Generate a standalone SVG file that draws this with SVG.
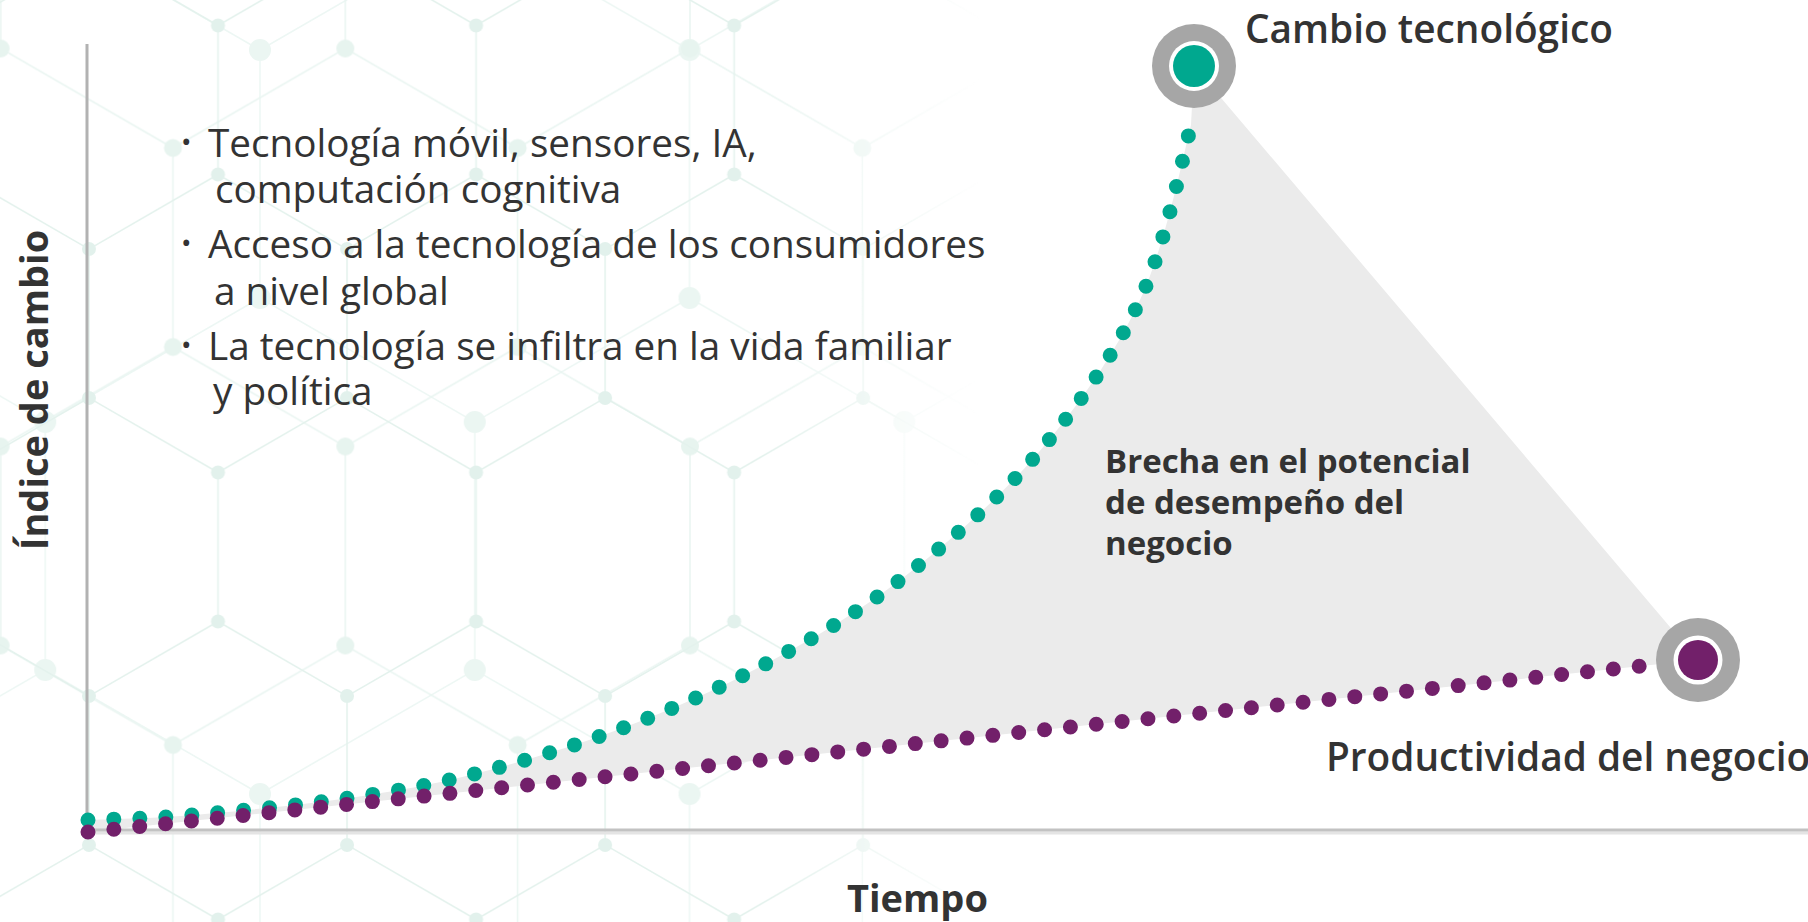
<svg xmlns="http://www.w3.org/2000/svg" width="1808" height="922" viewBox="0 0 1808 922">
  <style>
    .txt { font-family: "Open Sans", "Liberation Sans", sans-serif; fill: #333; }
    .bul { font-size: 38.7px; font-weight: 400; }
    .dot { font-size: 28px; }
    .lbl { font-size: 38.8px; font-weight: 600; }
    .gap { font-size: 33px; font-weight: 700; }
    .axis { font-size: 38px; font-weight: 700; }
    .ring { fill: #a6a6a6; }
    .halo { fill: #ffffff; }
    .curve { fill: none; stroke-width: 15; stroke-linecap: round; stroke-dasharray: 0 26; }
  </style>
  <defs>
    <pattern id="hexA" patternUnits="userSpaceOnUse" x="88.96" y="547" width="258.08" height="447">
      <path d="M129.04,0 V74.5 L258.08,149 V298 L129.04,372.5 V447 M129.04,74.5 L0,149 V298 L129.04,372.5" fill="none" stroke="#e4f2ed" stroke-width="1.5"/>
      <g fill="#e2f1ec">
        <circle cx="129.04" cy="74.5" r="7"/><circle cx="258.08" cy="149" r="7"/><circle cx="258.08" cy="298" r="7"/>
        <circle cx="129.04" cy="372.5" r="7"/><circle cx="0" cy="149" r="7"/><circle cx="0" cy="298" r="7"/>
      </g>
    </pattern>
    <pattern id="hexB" patternUnits="userSpaceOnUse" x="45.23" y="174" width="429.55" height="744">
      <path d="M214.77,0 V124 L429.55,248 V496 L214.77,620 V744 M214.77,124 L0,248 V496 L214.77,620" fill="none" stroke="#edf7f4" stroke-width="1.5"/>
      <g fill="#ebf6f2">
        <circle cx="214.77" cy="124" r="11"/><circle cx="429.55" cy="248" r="11"/><circle cx="429.55" cy="496" r="11"/>
        <circle cx="214.77" cy="620" r="11"/><circle cx="0" cy="248" r="11"/><circle cx="0" cy="496" r="11"/>
      </g>
    </pattern>
    <pattern id="hexC" patternUnits="userSpaceOnUse" x="0.66" y="247.5" width="344.67" height="597">
      <path d="M172.34,0 V99.5 L344.67,199 V398 L172.34,497.5 V597 M172.34,99.5 L0,199 V398 L172.34,497.5" fill="none" stroke="#e9f5f1" stroke-width="1.5"/>
      <g fill="#e7f4ef">
        <circle cx="172.34" cy="99.5" r="9"/><circle cx="344.67" cy="199" r="9"/><circle cx="344.67" cy="398" r="9"/>
        <circle cx="172.34" cy="497.5" r="9"/><circle cx="0" cy="199" r="9"/><circle cx="0" cy="398" r="9"/>
      </g>
    </pattern>
    <linearGradient id="fadeGrad" gradientUnits="userSpaceOnUse" x1="0" y1="0" x2="980" y2="0">
      <stop offset="0" stop-color="#fff"/>
      <stop offset="0.78" stop-color="#fff"/>
      <stop offset="1" stop-color="#000"/>
    </linearGradient>
    <mask id="fade" maskUnits="userSpaceOnUse" x="0" y="0" width="1808" height="922">
      <rect x="0" y="0" width="1808" height="922" fill="url(#fadeGrad)"/>
    </mask>
  </defs>

  <rect x="0" y="0" width="1808" height="922" fill="#ffffff"/>

  <g id="background" mask="url(#fade)">
    <rect x="0" y="0" width="1000" height="922" fill="url(#hexB)"/>
    <rect x="0" y="0" width="1000" height="922" fill="url(#hexC)"/>
    <rect x="0" y="0" width="1000" height="922" fill="url(#hexA)"/>
  </g>

  <g id="gap-area">
    <path d="M88,820 C105.5,819.2 149.5,818.7 193,815 C236.5,811.3 301.5,805 349,798 C396.5,791 431.5,785 478,773 C524.5,761 579.2,744.7 628,726 C676.8,707.3 725,685.8 771,661 C817,636.2 859.3,611.8 904,577 C948.7,542.2 999.7,498.2 1039,452 C1078.3,405.8 1114.7,354.5 1140,300 C1165.3,245.5 1182.2,160 1191,125 L1194,66 L1698,660 L88,832 Z" fill="#ebebeb"/>
  </g>

  <g id="axes">
    <line x1="87" y1="44" x2="87" y2="832" stroke="#b2b2b2" stroke-width="3"/>
    <line x1="86" y1="833" x2="1808" y2="833" stroke="#e4e4e4" stroke-width="3"/>
    <line x1="86" y1="830" x2="1808" y2="830" stroke="#c2c2c2" stroke-width="3"/>
  </g>

  <g id="connectors">
    <path id="curve-tech" class="curve" stroke="#00a88f" d="M88,820 C105.5,819.2 149.5,818.7 193,815 C236.5,811.3 301.5,805 349,798 C396.5,791 431.5,785 478,773 C524.5,761 579.2,744.7 628,726 C676.8,707.3 725,685.8 771,661 C817,636.2 859.3,611.8 904,577 C948.7,542.2 999.7,498.2 1039,452 C1078.3,405.8 1114.7,354.5 1140,300 C1165.3,245.5 1182.2,160 1191,125 L1192,112"/>
    <path id="curve-prod" class="curve" stroke="#72206a" d="M88,832 L1698,660"/>
  </g>

  <g id="node-tech">
    <circle class="ring" cx="1194" cy="66" r="42"/>
    <circle class="halo" cx="1194" cy="66" r="25"/>
    <circle cx="1194" cy="66" r="21" fill="#00a88f"/>
    <text class="txt lbl" x="1245" y="43">Cambio tecnológico</text>
  </g>

  <g id="node-prod">
    <circle class="ring" cx="1698" cy="660" r="42"/>
    <circle class="halo" cx="1698" cy="660" r="24.5"/>
    <circle cx="1698" cy="660" r="20" fill="#72206a"/>
    <text class="txt lbl" x="1326" y="771">Productividad del negocio</text>
  </g>

  <g id="gap-label">
    <text class="txt gap" x="1105" y="473">Brecha en el potencial</text>
    <text class="txt gap" x="1105" y="514">de desempeño del</text>
    <text class="txt gap" x="1105" y="555">negocio</text>
  </g>

  <g id="bullets">
    <text class="txt dot" x="181" y="152">•</text>
    <text class="txt bul" x="208" y="157">Tecnología móvil, sensores, IA,</text>
    <text class="txt bul" x="215" y="203">computación cognitiva</text>
    <text class="txt dot" x="181" y="253">•</text>
    <text class="txt bul" x="208" y="258">Acceso a la tecnología de los consumidores</text>
    <text class="txt bul" x="214" y="305">a nivel global</text>
    <text class="txt dot" x="181" y="355">•</text>
    <text class="txt bul" x="208" y="360">La tecnología se infiltra en la vida familiar</text>
    <text class="txt bul" x="213" y="405">y política</text>
  </g>

  <g id="axis-labels">
    <text class="txt axis" x="0" y="0" text-anchor="middle" transform="translate(48,390) rotate(-90)">Índice de cambio</text>
    <text class="txt axis" x="847" y="912">Tiempo</text>
  </g>
</svg>
